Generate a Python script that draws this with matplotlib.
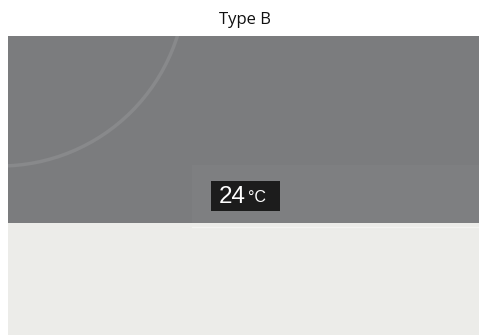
import matplotlib
matplotlib.use("Agg")
import matplotlib.pyplot as plt
from matplotlib.patches import Rectangle, Arc

# ----------------------------------------------------------------------
# DATA
# ----------------------------------------------------------------------

TITLE = "Type B"
TEMPERATURE = 24
UNIT = "°C"

# panel regions in image pixels: (x0, y0, x1, y1), top-left origin
PANEL_W, PANEL_H = 471, 299
SCREEN_BOX = (0, 0, 471, 187)
STRIP_BOX = (184, 129, 471, 187)
FLOOR_BOX = (0, 187, 471, 299)
LABEL_BOX = (203, 145, 272, 175)

# circle arc seen on the screen: centre x, centre y, radius
ARC_CENTRE = (-8, -56)
ARC_RADIUS = 186

# colours
SCREEN_COLOR = "#7b7c7e"
STRIP_COLOR = "#7e7f81"
FLOOR_COLOR = "#ecece9"
ARC_COLOR = "#88898b"
LABEL_COLOR = "#1c1c1c"


def box_patch(box, color):
    x0, y0, x1, y1 = box
    return Rectangle((x0, y0), x1 - x0, y1 - y0, facecolor=color,
                     edgecolor="none")


# ----------------------------------------------------------------------
# FIGURE
# ----------------------------------------------------------------------

fig = plt.figure(figsize=(4.79, 3.35), dpi=100)
fig.patch.set_facecolor("white")

fig.text(0.512, 0.94, TITLE, ha="center", va="center",
         fontsize=12, family="Open Sans", color="#111111")

ax = fig.add_axes([8 / 479, 0, 471 / 479, 299 / 335])
ax.set_xlim(0, PANEL_W)
ax.set_ylim(PANEL_H, 0)
ax.axis("off")

screen = box_patch(SCREEN_BOX, SCREEN_COLOR)
ax.add_patch(screen)
ax.add_patch(box_patch(STRIP_BOX, STRIP_COLOR))
ax.add_patch(box_patch(FLOOR_BOX, FLOOR_COLOR))
# faint highlight along the lower edge of the screen
ax.axhline(FLOOR_BOX[1] + 4, xmin=0.39, xmax=1, color="#f4f4f2", lw=1.0)

arc = Arc(ARC_CENTRE, 2 * ARC_RADIUS, 2 * ARC_RADIUS,
          theta1=0, theta2=90, color=ARC_COLOR, lw=2.5)
ax.add_patch(arc)
arc.set_clip_path(screen)

ax.add_patch(box_patch(LABEL_BOX, LABEL_COLOR))
lx0, ly0, lx1, ly1 = LABEL_BOX
ax.text(lx0 + 8, (ly0 + ly1) / 2 + 1, str(TEMPERATURE), ha="left",
        va="center", fontsize=17.5, family="Liberation Sans", color="white")
ax.text(lx0 + 37, (ly0 + ly1) / 2 + 2, UNIT, ha="left", va="center",
        fontsize=11.5, family="Liberation Sans", color="white")

plt.savefig("out.png", dpi=100)
